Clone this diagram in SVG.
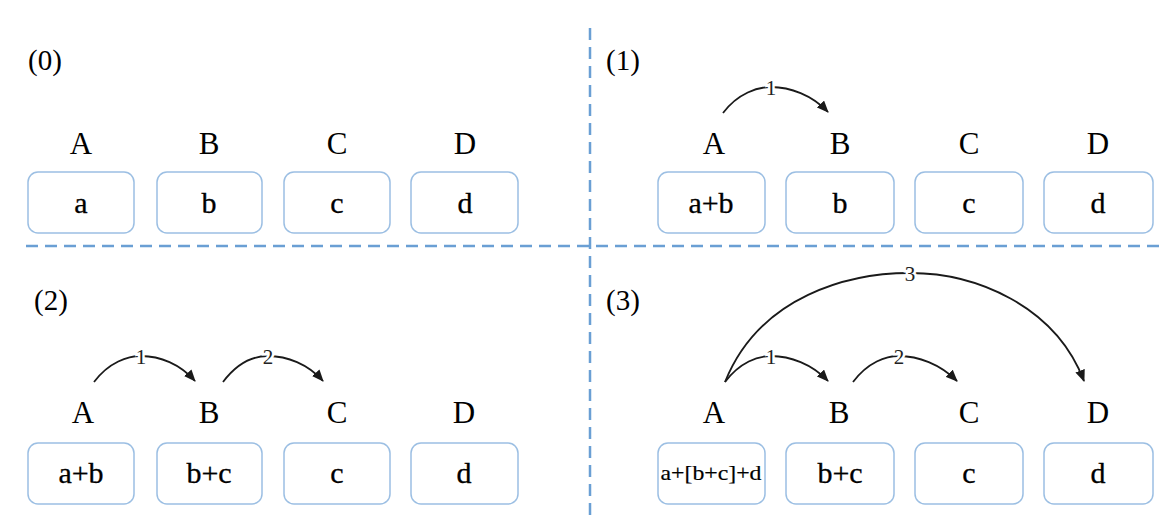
<svg xmlns="http://www.w3.org/2000/svg" width="1174" height="522" viewBox="0 0 1174 522">
<defs>
<style>
.bg{fill:#fff}
.div{stroke:#6A9FD4;stroke-width:2.5;stroke-dasharray:12 7;fill:none}
.box{fill:#fff;stroke:#9CBFE3;stroke-width:1.5}
.t{fill:#000}
.step{font-size:29px}
.lbl{font-size:31px;text-anchor:middle}
.val{font-size:30px;text-anchor:middle;stroke:#000;stroke-width:0.3}
.small{font-size:22px;text-anchor:middle;stroke:#000;stroke-width:0.2}
.arc{fill:none;stroke:#1a1a1a;stroke-width:1.8;marker-end:url(#ah)}
.num{font-size:21px;text-anchor:middle;fill:#222;stroke:#fff;stroke-width:5;paint-order:stroke}
</style>
<marker id="ah" markerUnits="userSpaceOnUse" markerWidth="12" markerHeight="10" refX="11" refY="5" orient="auto">
<path d="M0,0 L12,5 L0,10 z" fill="#1a1a1a"/>
</marker>
</defs>
<rect class="bg" x="0" y="0" width="1174" height="522"/>

<g id="dividers">
<line class="div" x1="26" y1="246" x2="1166" y2="246"/>
<line class="div" x1="590" y1="28" x2="590" y2="522"/>
</g>

<g font-family="Liberation Serif, Times New Roman, Noto Serif, DejaVu Serif, serif">
<g id="panel0">
<text class="t step" x="28" y="70">(0)</text>
<g id="p0-A"><text class="t lbl" x="81" y="154">A</text><rect class="box" x="28" y="172" width="106" height="61" rx="10"/><text class="t val" x="81" y="213">a</text></g>
<g id="p0-B"><text class="t lbl" x="209" y="154">B</text><rect class="box" x="157" y="172" width="105" height="61" rx="10"/><text class="t val" x="209" y="213">b</text></g>
<g id="p0-C"><text class="t lbl" x="337" y="154">C</text><rect class="box" x="284" y="172" width="106" height="61" rx="10"/><text class="t val" x="337" y="213">c</text></g>
<g id="p0-D"><text class="t lbl" x="465" y="154">D</text><rect class="box" x="411" y="172" width="107" height="61" rx="10"/><text class="t val" x="465" y="213">d</text></g>
</g>

<g id="panel1">
<text class="t step" x="606" y="70">(1)</text>
<g id="p1-A"><text class="t lbl" x="714" y="154">A</text><rect class="box" x="658" y="172" width="107" height="61" rx="10"/><text class="t val" x="711" y="213">a+b</text></g>
<g id="p1-B"><text class="t lbl" x="840" y="154">B</text><rect class="box" x="786" y="172" width="108" height="61" rx="10"/><text class="t val" x="840" y="213">b</text></g>
<g id="p1-C"><text class="t lbl" x="969" y="154">C</text><rect class="box" x="915" y="172" width="108" height="61" rx="10"/><text class="t val" x="969" y="213">c</text></g>
<g id="p1-D"><text class="t lbl" x="1098" y="154">D</text><rect class="box" x="1044" y="172" width="109" height="61" rx="10"/><text class="t val" x="1098" y="213">d</text></g>
</g>

<g id="panel2">
<text class="t step" x="34" y="310">(2)</text>
<g id="p2-A"><text class="t lbl" x="83" y="423">A</text><rect class="box" x="28" y="443" width="106" height="61" rx="10"/><text class="t val" x="81" y="483">a+b</text></g>
<g id="p2-B"><text class="t lbl" x="209" y="423">B</text><rect class="box" x="157" y="443" width="105" height="61" rx="10"/><text class="t val" x="209" y="483">b+c</text></g>
<g id="p2-C"><text class="t lbl" x="337" y="423">C</text><rect class="box" x="284" y="443" width="106" height="61" rx="10"/><text class="t val" x="337" y="483">c</text></g>
<g id="p2-D"><text class="t lbl" x="464" y="423">D</text><rect class="box" x="411" y="443" width="107" height="61" rx="10"/><text class="t val" x="464" y="483">d</text></g>
</g>

<g id="panel3">
<text class="t step" x="606" y="310">(3)</text>
<g id="p3-A"><text class="t lbl" x="714" y="423">A</text><rect class="box" x="658" y="443" width="107" height="61" rx="10"/><text class="t small" x="711" y="480" textLength="101" lengthAdjust="spacingAndGlyphs">a+[b+c]+d</text></g>
<g id="p3-B"><text class="t lbl" x="839" y="423">B</text><rect class="box" x="786" y="443" width="108" height="61" rx="10"/><text class="t val" x="840" y="483">b+c</text></g>
<g id="p3-C"><text class="t lbl" x="969" y="423">C</text><rect class="box" x="915" y="443" width="108" height="61" rx="10"/><text class="t val" x="969" y="483">c</text></g>
<g id="p3-D"><text class="t lbl" x="1098" y="423">D</text><rect class="box" x="1044" y="443" width="109" height="61" rx="10"/><text class="t val" x="1098" y="483">d</text></g>
</g>

<g id="connectors">
<path class="arc" d="M723,113 C738,93 758,87 771,87 C790,87 812,95 828,112"/>
<text class="num" x="771" y="95">1</text>

<path class="arc" d="M94,382 C109,362 128,356 141,356 C160,356 180,364 195,381"/>
<text class="num" x="141" y="364">1</text>
<path class="arc" d="M223,382 C238,362 255,356 268,356 C287,356 308,364 323,381"/>
<text class="num" x="268" y="364">2</text>

<path class="arc" d="M725,382 C760,295 850,273 910,273 C975,273 1055,305 1084,381"/>
<text class="num" x="910" y="281">3</text>
<path class="arc" d="M725,382 C740,362 758,356 771,356 C790,356 812,364 828,381"/>
<text class="num" x="771" y="364">1</text>
<path class="arc" d="M853,382 C868,362 886,356 899,356 C918,356 940,364 957,381"/>
<text class="num" x="899" y="364">2</text>
</g>
</g>
</svg>
